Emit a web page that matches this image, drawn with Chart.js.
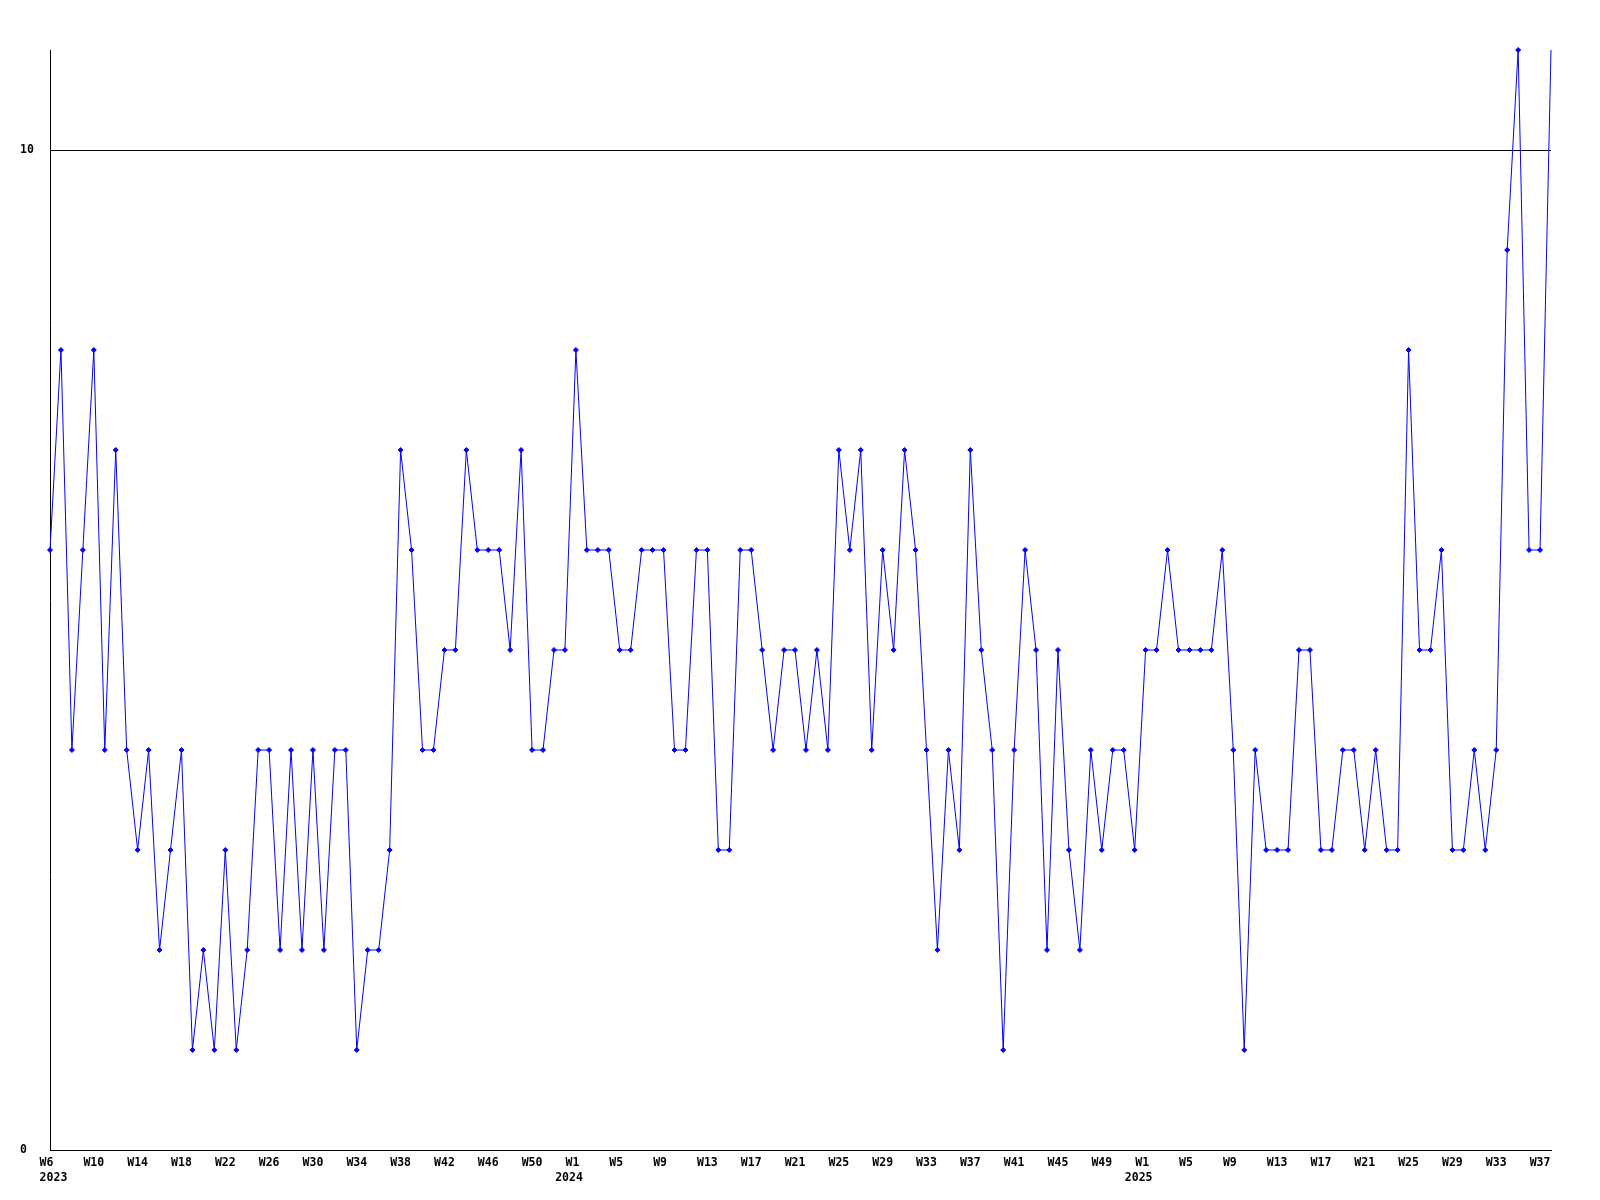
<!DOCTYPE html>
<html>
<head>
<meta charset="utf-8">
<title>Weekly count</title>
<script src="https://cdn.jsdelivr.net/npm/chart.js@4.4.1/dist/chart.umd.min.js"></script>
<style>
    html, body { margin: 0; padding: 0; background: #fff; }
    #wrap { width: 1600px; height: 1200px; }
</style>
</head>
<body>
<div id="wrap"><canvas id="weekChart" width="1600" height="1200"></canvas></div>
<script>
// weeks shown on the x axis, per year
const years = [2023, 2024, 2025];
const firstWeeks = [6, 1, 1];
const lastWeeks = [53, 52, 38];

// one value per week
const weeklyCounts = [
    6, 8, 4, 6, 8, 4, 7, 4, 3, 4,
    2, 3, 4, 1, 2, 1, 3, 1, 2, 4,
    4, 2, 4, 2, 4, 2, 4, 4, 1, 2,
    2, 3, 7, 6, 4, 4, 5, 5, 7, 6,
    6, 6, 5, 7, 4, 4, 5, 5, 8, 6,
    6, 6, 5, 5, 6, 6, 6, 4, 4, 6,
    6, 3, 3, 6, 6, 5, 4, 5, 5, 4,
    5, 4, 7, 6, 7, 4, 6, 5, 7, 6,
    4, 2, 4, 3, 7, 5, 4, 1, 4, 6,
    5, 2, 5, 3, 2, 4, 3, 4, 4, 3,
    5, 5, 6, 5, 5, 5, 5, 6, 4, 1,
    4, 3, 3, 3, 5, 5, 3, 3, 4, 4,
    3, 4, 3, 3, 8, 5, 5, 6, 3, 3,
    4, 3, 4, 9, 11, 6, 6, 11
];

// y axis: labelled values and range
const yTickValues = [0, 10];
const yMin = 0;
const yMax = 11;

// every 4th week gets a label
const labelEvery = 4;

const weekLabels = [];
const yearOf = [];
years.forEach((year, y) => {
    for (let w = firstWeeks[y]; w <= lastWeeks[y]; w++) {
        weekLabels.push('W' + w);
        yearOf.push(w === firstWeeks[y] ? String(year) : null);
    }
});

const tickFont = { family: 'DejaVu Sans Mono', size: 11.5, weight: 'bold', lineHeight: 1.3 };
const lastIndex = weeklyCounts.length - 1;

const ctx = document.getElementById('weekChart').getContext('2d');
new Chart(ctx, {
    type: 'line',
    data: {
        labels: weekLabels,
        datasets: [{
            data: weeklyCounts,
            borderColor: '#0000ff',
            borderWidth: 1,
            tension: 0,
            pointStyle: 'rectRot',
            // current (unfinished) week has no marker
            pointRadius: c => c.dataIndex === lastIndex ? 0 : 2.5,
            pointBackgroundColor: '#0000ff',
            pointBorderColor: '#0000ff',
            pointBorderWidth: 1,
            clip: false
        }]
    },
    options: {
        responsive: false,
        animation: false,
        layout: { padding: { left: 20, top: 50, right: 49, bottom: 0 } },
        plugins: {
            legend: { display: false },
            tooltip: { enabled: false }
        },
        scales: {
            x: {
                grid: { display: false },
                border: { display: true, color: '#000', width: 1 },
                afterFit: scale => { scale.height = 50; },
                ticks: {
                    autoSkip: false,
                    maxRotation: 0,
                    minRotation: 0,
                    padding: -2,
                    color: '#000',
                    font: tickFont,
                    callback: function (value, index) {
                        if (index % labelEvery !== 0) return null;
                        // spaces shift the centred text to where the reference draws it
                        const wk = this.getLabelForValue(value).padEnd(3, ' ');
                        if (!yearOf[index]) return wk;
                        return [wk, index === 0 ? ' ' + yearOf[index] : yearOf[index] + '  '];
                    }
                }
            },
            y: {
                min: yMin,
                max: yMax,
                afterFit: scale => { scale.width = 30; },
                afterBuildTicks: scale => { scale.ticks = yTickValues.map(v => ({ value: v })); },
                grid: { color: '#000', lineWidth: 1, drawTicks: false },
                border: { display: true, color: '#000', width: 1 },
                ticks: {
                    crossAlign: 'far',
                    padding: 0,
                    color: '#000',
                    font: tickFont
                }
            }
        }
    }
});
</script>
</body>
</html>
